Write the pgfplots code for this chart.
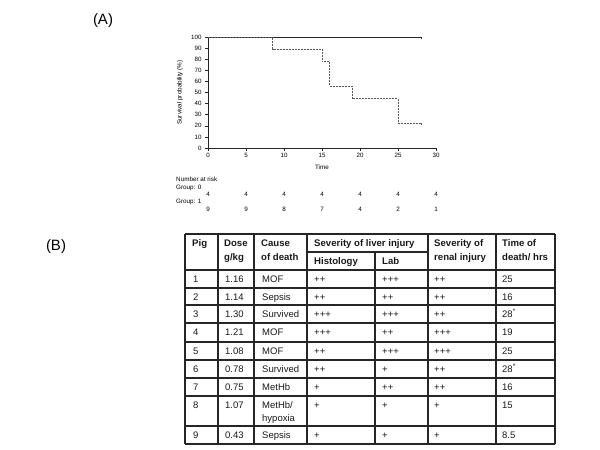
\documentclass[border=0pt]{standalone}
\usepackage{pgfplots}
\pgfplotsset{compat=1.18}
\usepackage{fontspec}
\setmainfont{Liberation Sans}
\begin{document}
\begin{tikzpicture}[x=1pt,y=-1pt]
\path[use as bounding box] (0,0) rectangle (600,450);
% ---------- (A) ----------
\node[font=\fontsize{15}{18}\selectfont, inner sep=0] at (103,21) {(A)};
\begin{axis}[at={(208pt,-148pt)}, anchor=south west, scale only axis,
  width=228pt, height=111pt,
  xmin=0, xmax=30, ymin=0, ymax=100,
  axis lines=left, axis line style={-, line width=0.6pt, black!85},
  xtick={0,5,...,30}, ytick={0,10,...,100},
  tick align=outside, major tick length=3pt,
  tick style={line width=0.5pt, black!85},
  ticklabel style={font=\fontsize{6.2}{7}\selectfont},
  /pgf/number format/assume math mode=true,
  xticklabel style={yshift=1pt},
  clip=false,
  xlabel={Time}, ylabel={Survival probability (\%)},
  label style={font=\fontsize{6.3}{7}\selectfont},
  xlabel style={at={(axis description cs:0.5,-0.171)}, anchor=center},
  ylabel style={at={(axis description cs:-0.123,0.5)}, anchor=center},
]
\addplot[const plot, line width=0.9pt, black!85] coordinates {(0,100) (28,100)};
\addplot[line width=0.6pt, black!85] coordinates {(28,100) (28,98.5)};
\addplot[const plot, line width=0.9pt, black!65, dash pattern=on 2pt off 1pt]
  coordinates {(0,100) (8.5,88.89) (15,77.78) (16,55.56) (19,44.44) (25,22.22) (28,22.22)};
\addplot[line width=0.6pt, black!65] coordinates {(28,22.22) (28,20.5)};
\end{axis}
% number at risk
\begin{scope}[every node/.style={font=\fontsize{6.3}{7}\selectfont, inner sep=0}]
\node[anchor=west] at (176,179) {Number at risk};
\node[anchor=west] at (176,187.5) {Group: 0};
\node[anchor=west] at (176,202) {Group: 1};
\foreach \k/\a/\b in {0/4/9,1/4/9,2/4/8,3/4/7,4/4/4,5/4/2,6/4/1}{
  \node at ({208+38*\k},194.5) {\a};
  \node at ({208+38*\k},209) {\b};
}
\end{scope}
% ---------- (B) ----------
\node[font=\fontsize{15}{18}\selectfont, inner sep=0] at (56,247) {(B)};
\begin{scope}[line width=1.2pt]
\foreach \yy in {234,270,288,305,323,342,360,378,396,426,444}{
  \draw[black!85] (185,\yy) -- (555,\yy);
}
\draw[black!85] (307,252) -- (428,252);
\foreach \xx in {185,218,254,307,428,496,555}{
  \draw[black!85] (\xx,234) -- (\xx,444);
}
\draw[black!85] (375,252) -- (375,444);
\end{scope}
\begin{scope}[every node/.style={font=\fontsize{9.6}{11}\selectfont\bfseries, inner sep=0, anchor=base west, text=black!90}]
\node at (192,246.5) {Pig};
\node at (224,246.5) {Dose};
\node at (224,260.5) {g/kg};
\node at (261,246.5) {Cause};
\node at (261,260.5) {of death};
\node at (314,246.5) {Severity of liver injury};
\node at (314,264.5) {Histology};
\node at (382,264.5) {Lab};
\node at (434,246.5) {Severity of};
\node at (434,260.5) {renal injury};
\node at (502,246.5) {Time of};
\node at (502,260.5) {death/ hrs};
\end{scope}
\begin{scope}[every node/.style={font=\fontsize{9.5}{11}\selectfont, inner sep=0, anchor=base west, text=black!90}]
\foreach \y/\a/\b/\c/\d/\e/\f/\g in {
  279/1/1.16/MOF/++/+++/++/25,
  297/2/1.14/Sepsis/++/++/++/16,
  314/3/1.30/Survived/+++/+++/++/{28\textsuperscript{*}},
  332/4/1.21/MOF/+++/++/+++/19,
  351/5/1.08/MOF/++/+++/+++/25,
  369/6/0.78/Survived/++/+/++/{28\textsuperscript{*}},
  387/7/0.75/MetHb/+/++/++/16,
  435/9/0.43/Sepsis/+/+/+/8.5}{
  \node at (193,\y+3.4) {\a};
  \node at (225,\y+3.4) {\b};
  \node at (262,\y+3.4) {\c};
  \node at (314,\y+3.4) {\d};
  \node at (382,\y+3.4) {\e};
  \node at (434,\y+3.4) {\f};
  \node at (502,\y+3.4) {\g};
}
\node at (193,408.4) {8};
\node at (225,408.4) {1.07};
\node at (262,408.4) {MetHb/};
\node at (262,421.4) {hypoxia};
\node at (314,408.4) {+};
\node at (382,408.4) {+};
\node at (434,408.4) {+};
\node at (502,408.4) {15};
\end{scope}
\end{tikzpicture}
\end{document}
